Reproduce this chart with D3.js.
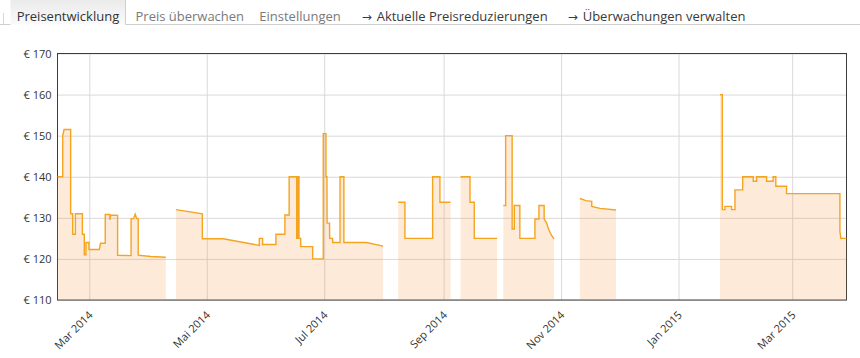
<!DOCTYPE html>
<html><head><meta charset="utf-8">
<script src="https://cdn.jsdelivr.net/npm/d3@7"></script>
<style>
html,body{margin:0;padding:0;background:#fff;}
svg{display:block;font-family:"Open Sans",sans-serif;}
</style></head><body>
<svg id="chart" width="860" height="358"></svg>
<script>
// ---------- data ----------
const tabLabels = ["Preisentwicklung", "Preis überwachen", "Einstellungen", "Aktuelle Preisreduzierungen", "Überwachungen verwalten"];
const tabArrows = [false, false, false, true, true];

const yTicks = [110, 120, 130, 140, 150, 160, 170];
const yDomain = [110, 170];
const xDomain = ["2014-02-12 12", "2015-03-29 05"];
const xTickDates = ["2014-03-01 00", "2014-05-01 00", "2014-07-01 00", "2014-09-01 00", "2014-11-01 00", "2015-01-01 00", "2015-03-01 00"];
const xTickLabels = ["Mar 2014", "Mai 2014", "Jul 2014", "Sep 2014", "Nov 2014", "Jan 2015", "Mar 2015"];

// price history (null = no data)
const dates = [
  "2014-02-12 12","2014-02-15 05","2014-02-15 05","2014-02-15 22","2014-02-19 08","2014-02-19 08","2014-02-20 10","2014-02-20 10",
  "2014-02-21 19","2014-02-21 19","2014-02-25 10","2014-02-25 10","2014-02-26 10","2014-02-26 10","2014-02-27 07","2014-02-27 07",
  "2014-02-28 20","2014-02-28 20","2014-03-06 05","2014-03-06 20","2014-03-09 07","2014-03-09 07","2014-03-11 17","2014-03-11 17",
  "2014-03-12 04","2014-03-15 17","2014-03-15 17","2014-03-22 17","2014-03-22 17","2014-03-24 00","2014-03-24 20","2014-03-25 16",
  "2014-03-26 10","2014-03-26 10","2014-04-02 00","2014-04-09 17","2014-04-12 00",
  "2014-04-15 00","2014-04-28 17","2014-04-28 17","2014-05-09 14","2014-05-28 07","2014-05-28 07","2014-05-30 00","2014-05-30 00",
  "2014-06-05 22","2014-06-05 22","2014-06-10 14","2014-06-10 14","2014-06-12 19","2014-06-12 19","2014-06-16 17","2014-06-16 17",
  "2014-06-17 05","2014-06-17 05","2014-06-17 22","2014-06-17 22","2014-06-18 19","2014-06-18 19","2014-06-25 00","2014-06-25 00",
  "2014-06-30 12","2014-06-30 12","2014-07-01 22","2014-07-01 22","2014-07-02 10","2014-07-02 12","2014-07-03 18","2014-07-03 20",
  "2014-07-05 08","2014-07-05 10","2014-07-09 05","2014-07-09 05","2014-07-11 05","2014-07-11 05","2014-07-23 00","2014-07-31 14",
  "2014-08-04 00",
  "2014-08-08 10","2014-08-11 22","2014-08-11 22","2014-08-26 07","2014-08-26 07","2014-08-30 02","2014-08-30 02","2014-09-04 14",
  "2014-09-07 00",
  "2014-09-09 19","2014-09-14 17","2014-09-14 17","2014-09-16 22","2014-09-16 22","2014-09-28 19",
  "2014-09-30 12",
  "2014-10-02 00","2014-10-03 05","2014-10-03 05","2014-10-06 14","2014-10-06 14","2014-10-07 17","2014-10-07 17","2014-10-10 14",
  "2014-10-10 14","2014-10-18 10","2014-10-18 10","2014-10-20 12","2014-10-20 12","2014-10-23 05","2014-10-23 05","2014-10-24 12",
  "2014-10-25 07","2014-10-26 05","2014-10-27 02","2014-10-28 07",
  "2014-11-03 00",
  "2014-11-10 19","2014-11-13 22","2014-11-16 22","2014-11-16 22","2014-11-21 05","2014-11-29 12",
  "2014-12-10 00",
  "2015-01-22 12","2015-01-23 17","2015-01-23 17","2015-01-25 02","2015-01-25 02","2015-01-28 12","2015-01-28 12","2015-01-30 07",
  "2015-01-30 07","2015-02-03 07","2015-02-03 07","2015-02-08 19","2015-02-08 19","2015-02-10 12","2015-02-10 12","2015-02-15 17",
  "2015-02-15 17","2015-02-19 02","2015-02-19 02","2015-02-20 12","2015-02-20 12","2015-02-26 02","2015-02-26 02","2015-03-25 19",
  "2015-03-25 19","2015-03-26 07","2015-03-29 05"
];
const prices = [
  140,140,150,151.5,151.5,131,131,126,
  126,131,131,126,126,121,121,124,
  124,122.3,122.3,123.8,123.8,130.8,130.8,129.5,
  130.7,130.6,120.9,120.8,129.8,129.8,130.9,129.8,
  129.8,120.9,120.6,120.4,null,
  132,131,124.9,124.9,123.3,125,125,123.5,
  123.5,126,126,130.7,130.7,140,140,125,
  125,140,140,125,125,123,123,120,
  120,150.5,150.5,140,140,128.7,128.7,125,
  125,124,124,140,140,124,124,123.1,
  null,
  133.8,133.8,125,125,140,140,133.8,133.8,
  null,
  140,140,133.8,133.8,125,125,
  null,
  133,133,150,150,127.3,127.3,133,133,
  125,125,129.7,129.7,133,133,129.7,128.8,
  127.5,126.5,125.7,124.9,
  null,
  134.7,134.2,134.0,132.8,132.3,131.9,
  null,
  160,160,132,132,132.8,132.8,132,132,
  136.8,136.8,140,140,138.9,138.9,140,140,
  138.9,138.9,140,140,137.7,137.7,135.9,135.9,
  126.7,125,125
];

// ---------- layout ----------
const svg = d3.select("#chart");
const parse = d3.utcParse("%Y-%m-%d %H");
const plot = {left: 57.5, right: 846.5, top: 53.5, bottom: 300};

// tabs
const tabs = svg.append("g");
const grad = svg.append("defs").append("linearGradient").attr("id","tabg").attr("x1",0).attr("x2",0).attr("y1",0).attr("y2",1);
grad.append("stop").attr("offset","0%").attr("stop-color","#eaeaea");
grad.append("stop").attr("offset","100%").attr("stop-color","#fafafa");
tabs.append("rect").attr("x",10.5).attr("y",-1).attr("width",115).attr("height",25.5).attr("fill","url(#tabg)");
tabs.append("line").attr("x1",125.5).attr("x2",125.5).attr("y1",0).attr("y2",24.5).attr("stroke","#cfcfcf");
tabs.append("line").attr("x1",3.5).attr("x2",3.5).attr("y1",13).attr("y2",24.5).attr("stroke","#d6d6d6");
tabs.append("line").attr("x1",0).attr("x2",10.5).attr("y1",24.5).attr("y2",24.5).attr("stroke","#cfcfcf");
tabs.append("line").attr("x1",125.5).attr("x2",860).attr("y1",24.5).attr("y2",24.5).attr("stroke","#cfcfcf");
const tabX = [16.7, 135.5, 259.3, 376.7, 582.7];
const tabColor = ["#333", "#7a7a7a", "#7a7a7a", "#3a3a3a", "#3a3a3a"];
tabLabels.forEach((t,i) => {
  if (tabArrows[i]) {
    tabs.append("text").attr("x", tabX[i]-15).attr("y", 20.5).attr("font-size", 12)
      .attr("font-family","DejaVu Sans").attr("fill", tabColor[i]).text("→");
  }
  tabs.append("text").attr("x", tabX[i]).attr("y", 21).attr("font-size", 13)
    .attr("fill", tabColor[i]).text(t);
});

// scales
const x = d3.scaleUtc().domain(xDomain.map(parse)).range([plot.left, plot.right]);
const y = d3.scaleLinear().domain(yDomain).range([plot.bottom, plot.top]);

// y axis + horizontal grid
const gy = svg.append("g").attr("transform", `translate(${plot.left},0)`)
  .call(d3.axisLeft(y).tickValues(yTicks).tickSizeInner(-(plot.right-plot.left)).tickSizeOuter(0)
    .tickPadding(6).tickFormat(d => "€ " + d));
gy.select(".domain").remove();
gy.selectAll(".tick line").attr("stroke","#d9d9d9");
gy.selectAll(".tick text").attr("fill","#333").attr("font-size",11).attr("font-family","Open Sans, sans-serif");

// x axis + vertical grid
const gx = svg.append("g").attr("transform", `translate(0,${plot.bottom})`)
  .call(d3.axisBottom(x).tickValues(xTickDates.map(parse)).tickSizeInner(-(plot.bottom-plot.top)).tickSizeOuter(0)
    .tickFormat((d,i) => xTickLabels[i]));
gx.select(".domain").remove();
gx.selectAll(".tick line").attr("stroke","#d9d9d9");
gx.selectAll(".tick text").attr("fill","#333").attr("font-size",11).attr("font-family","Open Sans, sans-serif")
  .attr("text-anchor","end").attr("x",0).attr("y",0).attr("dy","0.35em")
  .attr("transform","translate(1,13) rotate(-45)");

// border
svg.append("rect").attr("x",plot.left).attr("y",plot.top)
  .attr("width",plot.right-plot.left).attr("height",plot.bottom-plot.top)
  .attr("fill","none").attr("stroke","#3c3c3c");

// series
const data = dates.map((d,i) => ({date: parse(d), price: prices[i]}));
const area = d3.area().defined(d => d.price != null)
  .x(d => x(d.date)).y0(y(yDomain[0])).y1(d => y(d.price));
const line = d3.line().defined(d => d.price != null)
  .x(d => x(d.date)).y(d => y(d.price));
svg.append("path").datum(data).attr("d", area).attr("fill","rgba(247,150,60,0.2)");
svg.append("path").datum(data).attr("d", line).attr("fill","none")
  .attr("stroke","#f5a41f").attr("stroke-width",1.4).attr("stroke-linejoin","miter");
</script>
</body></html>
